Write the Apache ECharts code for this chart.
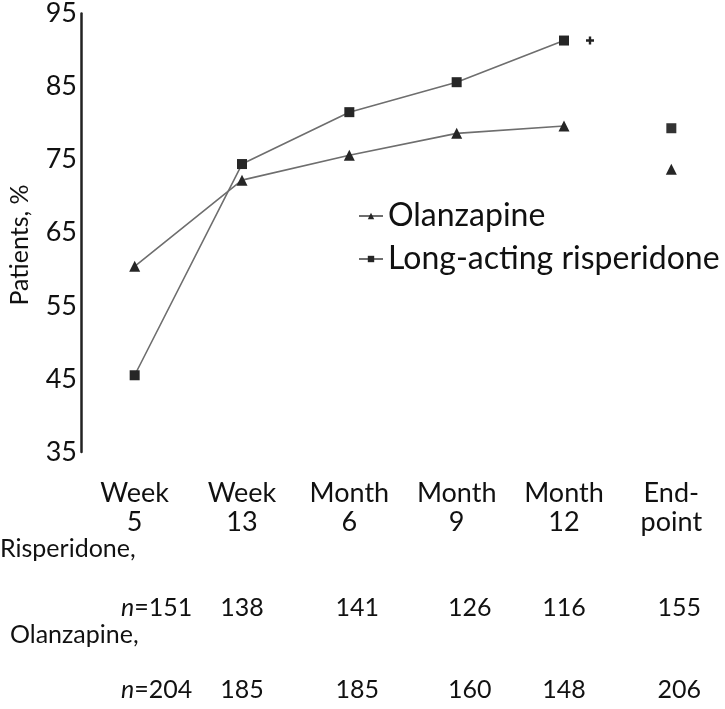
<!DOCTYPE html>
<html><head><meta charset="utf-8">
<script src="https://cdn.jsdelivr.net/npm/echarts@6/dist/echarts.min.js"></script>
<style>html,body{margin:0;padding:0;background:#fff}#c{width:725px;height:709px}</style>
</head><body><div id="c"></div>
<script>
var categories = ['Week\n5', 'Week\n13', 'Month\n6', 'Month\n9', 'Month\n12', 'End-\npoint'];
var risperidone = [45.5, 74.4, 81.5, 85.6, 91.3, 79.3];
var olanzapine = [60.4, 72.2, 75.6, 78.6, 79.6, 73.7];
var yTicks = [35, 45, 55, 65, 75, 85, 95];
var risN = ['151', '138', '141', '126', '116', '155'];
var olaN = ['204', '185', '185', '160', '148', '206'];
var sigMark = [null, null, null, null, 91.3, null];

var FONT = 'Lato';
var chart = echarts.init(document.getElementById('c'));
function lineData(a){ return a.map(function(v,i){ return i < a.length-1 ? v : null; }); }
function endData(a){ return a.map(function(v,i){ return i === a.length-1 ? v : null; }); }
var markerColor = '#262626';
var lineColor = '#6e6e6e';
var option = {
  animation: false,
  backgroundColor: '#fff',
  textStyle: {fontFamily: FONT},
  grid: {left: 81, right: 0, top: 13, bottom: 257},
  legend: {
    orient: 'vertical', left: 353, top: 195, itemGap: 11,
    itemWidth: 24, itemHeight: 8,
    textStyle: {fontFamily: FONT, fontSize: 32, color: '#111'},
    data: ['Olanzapine', 'Long-acting risperidone']
  },
  xAxis: {
    type: 'category', data: categories, boundaryGap: true,
    axisLine: {show: false}, axisTick: {show: false},
    axisLabel: {margin: 27, fontFamily: FONT, fontSize: 27, color: '#111', lineHeight: 29}
  },
  yAxis: {
    type: 'value', min: yTicks[0], max: yTicks[yTicks.length-1], interval: 10,
    axisLine: {show: true, lineStyle: {color: '#222', width: 2.5}},
    axisTick: {show: false},
    splitLine: {show: false},
    axisLabel: {margin: 4, fontFamily: FONT, fontSize: 27, color: '#111'}
  },
  series: [
    {name: 'Olanzapine', type: 'line', data: lineData(olanzapine), symbol: 'triangle', symbolSize: 11,
      itemStyle: {color: markerColor}, lineStyle: {color: lineColor, width: 1.6}, connectNulls: false},
    {name: 'Long-acting risperidone', type: 'line', data: lineData(risperidone), symbol: 'rect', symbolSize: 10,
      itemStyle: {color: markerColor}, lineStyle: {color: lineColor, width: 1.6}, connectNulls: false},
    {name: 'olaEnd', type: 'scatter', data: endData(olanzapine), symbol: 'triangle', symbolSize: 11,
      itemStyle: {color: markerColor, opacity: 1}},
    {name: 'risEnd', type: 'scatter', data: endData(risperidone), symbol: 'rect', symbolSize: 10,
      itemStyle: {color: '#333', opacity: 1}},
    {name: 'sig', type: 'scatter', data: sigMark, symbol: 'path://M3.5,0L6.5,0L6.5,3.5L10,3.5L10,6.5L6.5,6.5L6.5,10L3.5,10L3.5,6.5L0,6.5L0,3.5L3.5,3.5Z',
      symbolSize: 8, symbolOffset: [26, 0], itemStyle: {color: '#222', opacity: 1}}
  ]
};
chart.setOption(option);

var colOffsets = [22, 0, 8, 13, 0, 8];
var g = [];
g.push({type: 'text', x: 20, y: 245, rotation: Math.PI / 2, style: {text: 'Patients, %', font: '25px ' + FONT, fill: '#111', align: 'center', verticalAlign: 'middle'}});
g.push({type: 'text', left: 0, top: 536, style: {text: 'Risperidone,', font: '25px ' + FONT, fill: '#111'}});
g.push({type: 'text', left: 10, top: 622, style: {text: 'Olanzapine,', font: '25px ' + FONT, fill: '#111'}});
for (var i = 0; i < categories.length; i++) {
  var px = chart.convertToPixel({xAxisIndex: 0}, categories[i]) + colOffsets[i];
  var rich = {n: {fontFamily: FONT, fontSize: 25, fontStyle: 'italic', fill: '#111'}, v: {fontFamily: FONT, fontSize: 25, fill: '#111'}};
  g.push({type: 'text', x: px, y: 608, style: {text: (i === 0 ? '{n|n}{v|=' + risN[i] + '}' : '{v|' + risN[i] + '}'), rich: rich, align: 'center', verticalAlign: 'middle'}});
  g.push({type: 'text', x: px, y: 690, style: {text: (i === 0 ? '{n|n}{v|=' + olaN[i] + '}' : '{v|' + olaN[i] + '}'), rich: rich, align: 'center', verticalAlign: 'middle'}});
}
chart.setOption({graphic: g});
</script></body></html>
